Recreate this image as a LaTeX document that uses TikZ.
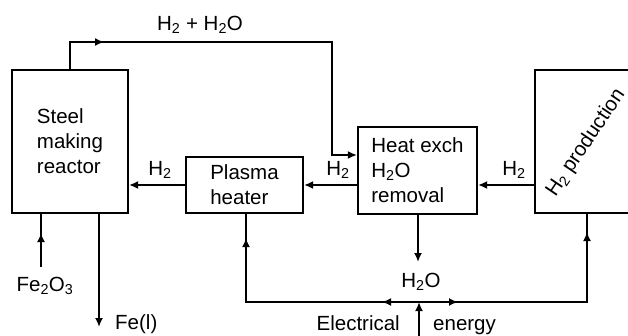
\documentclass[tikz,border=0pt]{standalone}
\usepackage{fontspec}
\setmainfont{Liberation Sans}
\usetikzlibrary{positioning}
\usetikzlibrary{arrows.meta}
\usetikzlibrary{decorations.markings}

\begin{document}
\begin{tikzpicture}[
    x=1pt, y=-1pt,
    every node/.style={font=\fontsize{20.5}{25}\selectfont},
    unit box/.style={draw, line width=2.1pt, inner sep=0pt, align=left},
    label text/.style={inner sep=0pt, anchor=base},
    pipe/.style={line width=2.1pt},
    pipe end/.style={pipe, -{Latex[length=9pt,width=8pt]}},
    pipe mark/.style={
        postaction={decorate},
        decoration={
            markings,
            mark=at position #1 with {\arrow{Latex[length=9pt,width=8pt]}}
        }
    },
    pipe marks/.style 2 args={
        postaction={decorate},
        decoration={
            markings,
            mark=at position #1 with {\arrow{Latex[length=9pt,width=8pt]}},
            mark=at position #2 with {\arrow{Latex[length=9pt,width=8pt]}}
        }
    }
  ]

  \useasboundingbox (0,0) rectangle (628,335);
  \clip (0,0) rectangle (628,335);

  % process units
  \node[unit box, minimum width=116, minimum height=143] (reactor) at (70,141.5) {Steel\\making\\reactor};
  \node[unit box, minimum width=117, minimum height=56] (plasma) at (244.5,185) {Plasma\\heater};
  \node[unit box, minimum width=119, minimum height=87] (heatex) at (417.5,170.5) {Heat exch\\H\textsubscript{2}O\\removal};
  \node[unit box, minimum width=150, minimum height=143] (h2prod) at (610,141.5) {};
  \node[rotate=56] (h2lbl) at (586,143) {H\textsubscript{2} production};

  % off-gas back to heat exchanger
  \coordinate (gasup) at (70,42);
  \coordinate (gasdown) at (332,42);
  \coordinate (gasin) at (332,155);
  \draw[pipe end, pipe mark=61pt] (reactor.north -| gasup) -- (gasup) -- (gasdown) -- (gasin) -- (gasin -| heatex.west);
  \node[label text] (gaslbl) at (200,30) {H\textsubscript{2} + H\textsubscript{2}O};

  % hydrogen line
  \draw[pipe end] (plasma.west) -- (reactor.east |- plasma.west);
  \draw[pipe end] (heatex.west |- plasma.east) -- (plasma.east);
  \draw[pipe end] (h2prod.west |- plasma.east) -- (heatex.east |- plasma.east);
  \node[label text] (h2a) at (160,175) {H\textsubscript{2}};
  \node[label text] (h2b) at (338,175) {H\textsubscript{2}};
  \node[label text] (h2c) at (514,175) {H\textsubscript{2}};

  % water out
  \coordinate (waterout) at (418,262);
  \draw[pipe end] (heatex.south -| waterout) -- (waterout);
  \node[label text] (water) at (421,287) {H\textsubscript{2}O};

  % ore in, iron out
  \coordinate (orein) at (41,267);
  \draw[pipe, pipe mark=34pt] (orein) -- (reactor.south -| orein);
  \node[label text] (ore) at (45,291) {Fe\textsubscript{2}O\textsubscript{3}};
  \coordinate (ironout) at (99,327);
  \draw[pipe end] (reactor.south -| ironout) -- (ironout);
  \node[label text, anchor=base west] (iron) at (115,329) {Fe(l)};

  % electrical energy
  \coordinate (elecfoot) at (419,336);
  \coordinate (split) at (419,302);
  \coordinate (plasmafeed) at (246,302);
  \coordinate (h2feed) at (587,302);
  \draw[pipe end] (elecfoot) -- (split);
  \draw[pipe, pipe marks={37pt}{237pt}] (split) -- (plasmafeed) -- (plasma.south -| plasmafeed);
  \draw[pipe, pipe marks={39pt}{238pt}] (split) -- (h2feed) -- (h2prod.south -| h2feed);
  \node[label text, anchor=base east] (eleclbl) at (400,330) {Electrical};
  \node[label text, anchor=base west] (energylbl) at (433,330) {energy};

\end{tikzpicture}
\end{document}
